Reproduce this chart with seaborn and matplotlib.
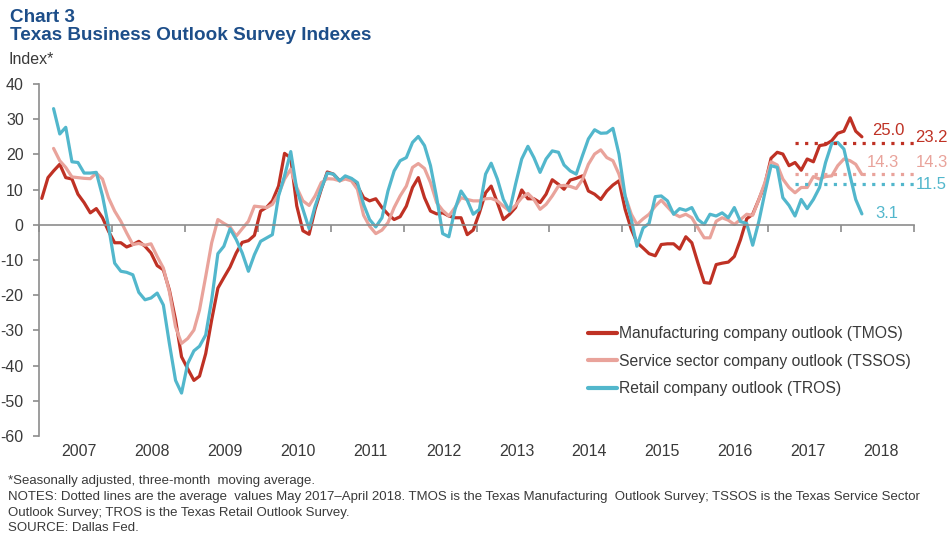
import matplotlib
matplotlib.use('Agg')
import matplotlib.pyplot as plt
import numpy as np
import pandas as pd
import seaborn as sns

# Monthly index readings (3-month moving avg), Jan 2007 - Apr 2018
tmos = [7.5, 13.4, 15.3, 17.2, 13.4, 13.0, 8.7, 6.3, 3.4, 4.6, 2.0, -1.8,
        -5.1, -5.1, -6.3, -5.6, -4.7, -6.1, -8.0, -11.6, -12.8, -18.5, -27.0, -37.5,
        -40.9, -44.2, -43.0, -36.6, -27.0, -18.0, -15.0, -12.0, -8.0, -5.0, -4.5, -3.0,
        3.9, 5.0, 6.8, 11.0, 20.3, 19.0, 5.4, -1.7, -2.7, 4.4, 10.1, 15.0,
        14.4, 12.5, 13.4, 13.0, 11.0, 7.7, 6.8, 7.4, 4.9, 3.0, 1.5, 2.3,
        5.3, 10.6, 13.4, 7.7, 3.9, 3.1, 3.4, 2.5, 2.0, 2.0, -2.8, -1.5,
        3.4, 9.1, 11.0, 6.3, 1.5, 3.0, 4.9, 9.9, 7.4, 7.4, 6.3, 8.7,
        12.8, 11.5, 10.1, 12.7, 13.2, 13.9, 9.6, 8.7, 7.2, 9.6, 11.3, 12.5,
        4.4, -1.3, -5.0, -6.6, -8.2, -8.8, -5.6, -5.4, -5.4, -6.9, -3.4, -5.1,
        -10.9, -16.4, -16.6, -11.3, -10.9, -10.6, -9.0, -4.2, 1.7, 3.0, 7.2, 11.5,
        18.9, 20.6, 20.1, 16.8, 17.7, 15.5, 18.7, 17.9, 22.5, 22.8, 23.9, 26.0,
        26.6, 30.4, 26.6, 25.0]

# service and retail series start in March 2007
tssos = [21.7, 18.2, 16.3, 13.6, 13.4, 13.2, 13.1, 14.7, 13.0, 7.7,
         3.9, 1.0, -2.3, -5.6, -5.3, -5.8, -5.4, -9.0, -12.3, -19.0, -29.0, -33.7,
         -32.3, -29.9, -24.2, -14.7, -5.1, 1.5, 0.4, -0.6, -3.2, -1.1, 1.0, 5.3,
         5.1, 4.9, 5.8, 8.7, 13.0, 15.8, 10.6, 6.8, 5.5, 8.2, 12.0, 13.1,
         13.0, 12.5, 13.0, 12.5, 10.1, 2.7, -0.4, -2.5, -1.5, 0.6, 4.9, 8.2,
         11.0, 16.3, 17.4, 16.0, 12.0, 6.3, 4.1, 2.5, 4.9, 7.7, 7.2, 6.8,
         6.8, 7.4, 7.5, 6.8, 5.3, 3.9, 5.5, 7.7, 8.9, 7.2, 4.4, 5.8,
         8.2, 11.0, 11.2, 10.9, 10.3, 12.8, 17.2, 20.1, 21.3, 19.1, 18.2, 14.4,
         8.2, 3.0, 0.1, 1.7, 3.0, 5.3, 7.0, 5.1, 3.2, 2.3, 3.0, 2.0,
         -0.9, -3.7, -3.7, 1.0, 2.0, 1.3, 0.1, 1.5, 3.0, 2.7, 7.2, 12.0,
         17.9, 17.0, 13.0, 10.6, 9.1, 10.6, 10.6, 13.7, 13.0, 13.7, 13.9, 16.8,
         18.7, 18.2, 17.2, 14.3]

tros = [33.0, 25.8, 27.7, 17.9, 17.7, 14.7, 14.7, 14.9, 8.2, -0.4,
        -10.9, -13.2, -13.5, -14.2, -19.2, -21.3, -20.8, -19.4, -22.8, -33.7, -44.2, -47.8,
        -39.4, -35.8, -34.5, -31.3, -21.3, -8.2, -6.1, -1.1, -4.2, -8.0, -13.2, -8.5,
        -4.7, -3.7, -2.8, 8.2, 13.9, 20.8, 10.1, 4.4, -1.1, 5.3, 10.3, 14.7,
        14.4, 12.5, 13.9, 13.2, 12.0, 5.8, 1.5, -0.6, 2.0, 9.6, 15.3, 18.2,
        19.1, 23.4, 25.1, 22.5, 16.8, 7.7, -2.5, -3.4, 4.4, 9.6, 7.0, 3.0,
        4.4, 14.4, 17.5, 13.0, 7.2, 3.9, 11.5, 18.7, 22.3, 19.1, 14.9, 18.7,
        21.0, 20.6, 17.0, 15.3, 14.4, 19.6, 24.4, 27.0, 26.0, 26.1, 27.4, 20.1,
        8.2, 1.5, -6.1, -0.9, 0.4, 8.0, 8.2, 6.8, 3.0, 4.6, 4.1, 4.9,
        1.5, 0.1, 3.0, 2.5, 3.4, 2.0, 4.9, 0.9, 0.4, -5.8, 1.0, 9.1,
        16.8, 16.3, 7.7, 5.5, 2.5, 7.2, 4.6, 7.2, 10.6, 17.7, 23.1, 23.4,
        21.5, 13.9, 7.2, 3.1]

series_labels = ['Manufacturing company outlook (TMOS)',
                 'Service sector company outlook (TSSOS)',
                 'Retail company outlook (TROS)']
colors = ['#bf3124', '#e9a39b', '#52b7cc']
avg_values = [23.2, 14.3, 11.5]          # May 2017 - April 2018 averages
avg_start = '2017-05-15'
years = list(range(2007, 2019))

# ---- build long data frame
dates = pd.date_range('2007-01-01', periods=len(tmos), freq='MS') + pd.Timedelta(days=14)
pad = [np.nan] * (len(tmos) - len(tssos))
df = pd.DataFrame({'date': dates,
                   series_labels[0]: tmos,
                   series_labels[1]: pad + tssos,
                   series_labels[2]: pad + tros})
df = df.melt(id_vars='date', var_name='series', value_name='value').dropna()

sns.set_style('white')
plt.rcParams['font.family'] = ['Liberation Sans', 'DejaVu Sans']
plt.rcParams['axes.unicode_minus'] = False
text_color = '#3a3a3a'
axis_color = '#8c8c8c'

fig = plt.figure(figsize=(9.49, 5.41), dpi=100)
ax = fig.add_axes([39 / 949, 1 - 436 / 541, 875 / 949, 352 / 541])

sns.lineplot(data=df, x='date', y='value', hue='series', hue_order=series_labels,
             palette=colors, linewidth=2.3, ax=ax)

# dotted average lines
xmax = pd.Timestamp('2019-01-01')
for val, col in zip(avg_values, colors):
    ax.plot([pd.Timestamp(avg_start), xmax], [val, val], color=col,
            linestyle=(0, (1, 2)), linewidth=2.3)

ax.set_xlim(pd.Timestamp('2007-01-01'), xmax)
ax.set_ylim(-60, 40)
ax.set_xlabel('')
ax.set_ylabel('')

# axes styling
for side in ['top', 'right']:
    ax.spines[side].set_visible(False)
ax.spines['bottom'].set_position(('data', 0))
for side in ['left', 'bottom']:
    ax.spines[side].set_color(axis_color)
    ax.spines[side].set_linewidth(1.2)

ax.set_yticks(range(-60, 41, 10))
ax.tick_params(axis='y', direction='out', length=4, width=1.2, color=axis_color,
               labelsize=11.5, labelcolor=text_color, pad=7, left=True)
ax.set_xticks([pd.Timestamp(f'{y}-01-01') for y in years + [2019]])
ax.tick_params(axis='x', direction='out', length=5, width=1.2, color=axis_color,
               labelbottom=False, bottom=True)

for y in years:
    ax.text(pd.Timestamp(f'{y}-07-20'), -64.4, str(y), ha='center', va='center',
            fontsize=11.5, color=text_color, clip_on=False)

# end-of-series and average labels
last_vals = [tmos[-1], tssos[-1], tros[-1]]
last_pos = [('2018-06-05', 26.7), ('2018-05-10', 17.8), ('2018-06-20', 3.3)]
for val, (d, yv), col in zip(last_vals, last_pos, colors):
    ax.text(pd.Timestamp(d), yv, f'{val:.1f}', color=col, fontsize=12,
            ha='left', va='center', clip_on=False)
avg_pos = [24.8, 17.8, 11.4]
for val, yv, col in zip(avg_values, avg_pos, colors):
    ax.text(pd.Timestamp('2019-01-08'), yv, f'{val:.1f}', color=col, fontsize=12,
            ha='left', va='center', clip_on=False)

# legend
handles, labels = ax.get_legend_handles_labels()
ax.legend(handles[:3], labels[:3], loc='upper left',
          bbox_to_anchor=(588 / 949, 1 - 326 / 541), bbox_transform=fig.transFigure,
          frameon=False, fontsize=11.3, handlelength=1.85, handletextpad=0.15,
          labelspacing=0.8, borderpad=0, borderaxespad=0, labelcolor=text_color)
for line in ax.get_legend().get_lines():
    line.set_linewidth(3)

# titles and notes
title_color = '#1d4e89'
fig.text(10 / 949, 1 - 17 / 541, 'Chart 3', fontsize=13.6, fontweight='bold',
         color=title_color, va='center')
fig.text(10 / 949, 1 - 36 / 541, 'Texas Business Outlook Survey Indexes', fontsize=13.6,
         fontweight='bold', color=title_color, va='center')
fig.text(9 / 949, 1 - 59 / 541, 'Index*', fontsize=11.5, color=text_color, va='center')

notes = ['*Seasonally adjusted, three-month  moving average.',
         'NOTES: Dotted lines are the average  values May 2017\u2013April 2018. TMOS is the Texas Manufacturing  Outlook Survey; TSSOS is the Texas Service Sector',
         'Outlook Survey; TROS is the Texas Retail Outlook Survey.',
         'SOURCE: Dallas Fed.']
for i, line in enumerate(notes):
    fig.text(8 / 949, 1 - (481 + 15.8 * i) / 541, line, fontsize=9.5,
             color=text_color, va='center')

fig.savefig('out.png', dpi=100)
